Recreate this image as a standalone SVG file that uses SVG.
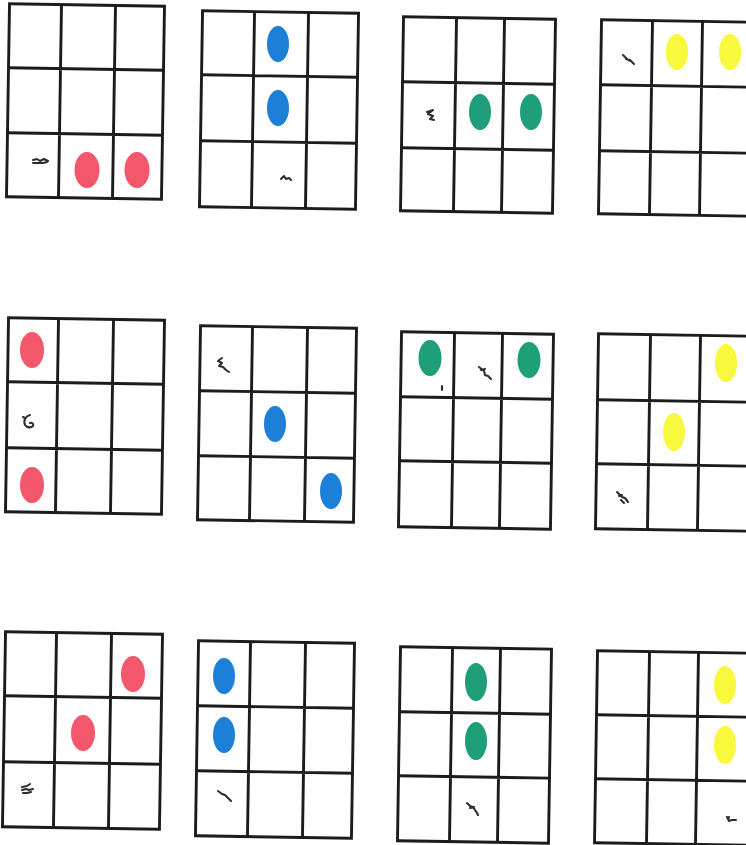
<svg xmlns="http://www.w3.org/2000/svg" width="746" height="845" viewBox="0 0 746 845">
<style>
.g{fill:none;stroke:#1c1c1c;stroke-width:2.9}
.r{fill:#f2576b}
.b{fill:#1c7fd8}
.gr{fill:#1f9f79}
.y{fill:#f8f83c}
.m{fill:none;stroke:#2e2e2e;stroke-width:2.1;stroke-linecap:round;stroke-linejoin:round}
</style>
<rect width="746" height="845" fill="#ffffff"/>
<g id="grid1">
<g transform="rotate(0.9 85 101)"><rect class="g" x="8" y="5" width="155" height="193"/><path class="g" d="M60 5V198M114 5V198M8 69H163M8 134H163"/></g>
<ellipse class="r" cx="87" cy="170" rx="12.5" ry="18"/><ellipse class="r" cx="137" cy="170" rx="12.5" ry="18"/>
<path class="m" d="M33 160l4 -1l3 2l4 -2l4 2M33 163l10 0l4 -1"/>
</g>
<g id="grid2">
<g transform="rotate(0.9 279 110)"><rect class="g" x="201" y="12" width="156" height="196"/><path class="g" d="M253 12V208M307 12V208M201 76H357M201 142H357"/></g>
<ellipse class="b" cx="278" cy="44" rx="11" ry="18"/><ellipse class="b" cx="278" cy="108" rx="11" ry="18"/>
<path class="m" d="M281 179l3 -3l2 3l3 -1l2 2"/>
</g>
<g id="grid3">
<g transform="rotate(0.9 478 115)"><rect class="g" x="402" y="18" width="152" height="194"/><path class="g" d="M455 18V212M503 18V212M402 83H554M402 149H554"/></g>
<ellipse class="gr" cx="480" cy="112" rx="11" ry="18"/><ellipse class="gr" cx="531" cy="112" rx="11" ry="18"/>
<path class="m" d="M427 112l6 -2l-5 4l5 2l-3 3l4 1"/>
</g>
<g id="grid4">
<g transform="rotate(0.9 676 118)"><rect class="g" x="600" y="21" width="152" height="194"/><path class="g" d="M651 21V215M701 21V215M600 86H752M600 152H752"/></g>
<ellipse class="y" cx="677" cy="52" rx="11" ry="18"/><ellipse class="y" cx="730" cy="52" rx="11" ry="18"/>
<path class="m" d="M623 55l5 5l3 1l3 3M626 59l4 1"/>
</g>
<g id="grid5">
<g transform="rotate(0.9 85 416)"><rect class="g" x="7" y="319" width="156" height="194"/><path class="g" d="M57 319V513M112 319V513M7 383H163M7 449H163"/></g>
<ellipse class="r" cx="32" cy="350" rx="12" ry="18"/><ellipse class="r" cx="32" cy="485" rx="12" ry="18"/>
<path class="m" d="M30 415c-4 1 -7 5 -5 10c2 3 6 3 8 1c1 -2 -1 -4 -3 -3M25 418l-2 -1"/>
</g>
<g id="grid6">
<g transform="rotate(0.9 277 424)"><rect class="g" x="199" y="327" width="156" height="194"/><path class="g" d="M251 327V521M306 327V521M199 392H355M199 457H355"/></g>
<ellipse class="b" cx="275" cy="424" rx="11" ry="18"/><ellipse class="b" cx="331" cy="491" rx="11" ry="18"/>
<path class="m" d="M222 358l-4 3l4 2l-3 3l4 1l3 3l3 2"/>
</g>
<g id="grid7">
<g transform="rotate(0.9 476 430)"><rect class="g" x="400" y="333" width="152" height="195"/><path class="g" d="M453 333V528M501 333V528M400 398H552M400 462H552"/></g>
<ellipse class="gr" cx="430" cy="358" rx="11.5" ry="18"/><ellipse class="gr" cx="529" cy="360" rx="11.5" ry="18"/>
<path class="m" d="M442 386v4"/>
<path class="m" d="M479 367l5 4l1 4l3 1l3 3M481 370l4 -1"/>
</g>
<g id="grid8">
<g transform="rotate(0.9 674 432)"><rect class="g" x="597" y="335" width="155" height="195"/><path class="g" d="M649 335V530M699 335V530M597 401H752M597 465H752"/></g>
<ellipse class="y" cx="726" cy="363" rx="11" ry="19"/><ellipse class="y" cx="674" cy="432" rx="11" ry="19"/>
<path class="m" d="M617 492l5 5l3 1l3 4M619 496l3 -1M621 500l3 3"/>
</g>
<g id="grid9">
<g transform="rotate(0.9 82 730)"><rect class="g" x="4" y="633" width="157" height="195"/><path class="g" d="M55 633V828M110 633V828M4 697H161M4 763H161"/></g>
<ellipse class="r" cx="133" cy="674" rx="12" ry="18"/><ellipse class="r" cx="83" cy="733" rx="12" ry="18"/>
<path class="m" d="M22 787l5 -1l3 -2M22 790l4 -1l3 1l4 -1M23 793l4 0l4 -1"/>
</g>
<g id="grid10">
<g transform="rotate(0.9 275 739)"><rect class="g" x="197" y="642" width="156" height="195"/><path class="g" d="M249 642V837M304 642V837M197 707H353M197 772H353"/></g>
<ellipse class="b" cx="224" cy="676" rx="11" ry="18"/><ellipse class="b" cx="224" cy="735" rx="11" ry="18"/>
<path class="m" d="M218 791l4 3l3 1l3 3l3 3"/>
</g>
<g id="grid11">
<g transform="rotate(0.9 475 745)"><rect class="g" x="399" y="648" width="151" height="194"/><path class="g" d="M451 648V842M499 648V842M399 713H550M399 777H550"/></g>
<ellipse class="gr" cx="476" cy="682" rx="11" ry="19"/><ellipse class="gr" cx="476" cy="741" rx="11" ry="19"/>
<path class="m" d="M467 803l3 3l3 1l2 3l2 3l1 2M470 808l4 -1"/>
</g>
<g id="grid12">
<g transform="rotate(0.9 674 748)"><rect class="g" x="596" y="652" width="156" height="192"/><path class="g" d="M648 652V844M697 652V844M596 716H752M596 780H752"/></g>
<ellipse class="y" cx="725" cy="685" rx="11" ry="19"/><ellipse class="y" cx="725" cy="745" rx="11" ry="19"/>
<path class="m" d="M727 817l2 4l3 -1l4 0M728 819l1 -2"/>
</g>
</svg>
